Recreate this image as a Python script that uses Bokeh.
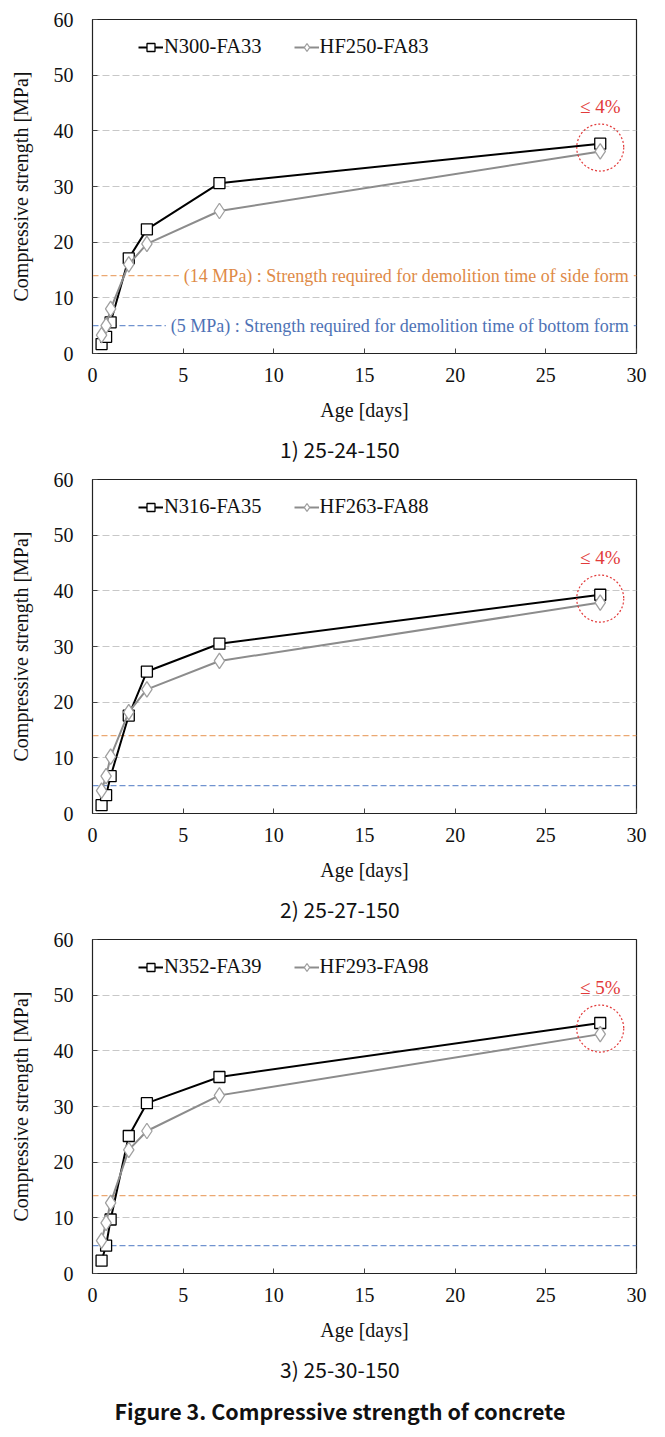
from bokeh.plotting import figure
from bokeh.models import Span, Label, FixedTicker, Range1d
from bokeh.layouts import column
from bokeh.embed import file_html
from bokeh.resources import INLINE

# ---------------- data ----------------
ages = [0.5, 0.75, 1, 2, 3, 7, 28]

n_names = ["N300-FA33", "N316-FA35", "N352-FA39"]
hf_names = ["HF250-FA83", "HF263-FA88", "HF293-FA98"]

n_chart1 = [1.7, 3.0, 5.6, 17.1, 22.3, 30.6, 37.7]
hf_chart1 = [3.3, 5.0, 8.0, 16.0, 19.7, 25.6, 36.3]
n_chart2 = [1.5, 3.3, 6.7, 17.6, 25.5, 30.5, 39.3]
hf_chart2 = [4.1, 6.7, 10.2, 18.2, 22.3, 27.4, 37.9]
n_chart3 = [2.3, 5.0, 9.7, 24.7, 30.6, 35.3, 45.0]
hf_chart3 = [5.9, 9.1, 12.7, 22.2, 25.6, 32.0, 43.0]

captions = ["1) 25-24-150", "2) 25-27-150", "3) 25-30-150"]
diff_labels = ["≤ 4%", "≤ 4%", "≤ 5%"]
x_ticks = [0, 5, 10, 15, 20, 25, 30]
y_ticks = [0, 10, 20, 30, 40, 50, 60]
side_form_mpa = 14
bottom_form_mpa = 5
side_form_note = "(14 MPa) : Strength required for demolition time of side form"
bottom_form_note = "(5 MPa) : Strength required for demolition time of bottom form"
figure_caption = "Figure 3. Compressive strength of concrete"

# ---------------- style ----------------
SERIF = "Liberation Serif"
KR = "Noto Sans CJK KR"
ORANGE_LINE = "#EBA872"
ORANGE_TEXT = "#DE8A47"
BLUE_LINE = "#7093CF"
BLUE_TEXT = "#4E72B5"
RED = "#E23A3A"
GREY = "#8C8C8C"

W = 664
FRAME_L = 92
FRAME_R = 636
CAPTION_X = 302


def make_chart(n_vals, hf_vals, n_name, hf_name, diff, with_notes, top):
    p = figure(width=W, height=top + 334 + 76, x_range=Range1d(0, 30), y_range=Range1d(0, 60),
               output_backend="svg", toolbar_location=None,
               min_border_left=FRAME_L, min_border_right=W - FRAME_R,
               min_border_top=top, min_border_bottom=76)
    p.background_fill_color = "white"
    p.border_fill_color = "white"
    p.outline_line_color = "#222222"
    p.outline_line_width = 1.2

    p.xgrid.visible = False
    p.ygrid.grid_line_color = "#C8C8C8"
    p.ygrid.grid_line_dash = "7 3"
    p.ygrid.grid_line_width = 1

    p.xaxis.ticker = FixedTicker(ticks=x_ticks)
    p.yaxis.ticker = FixedTicker(ticks=y_ticks)
    for ax in (p.xaxis[0], p.yaxis[0]):
        ax.major_tick_in = 5
        ax.major_tick_out = 0
        ax.minor_tick_line_color = None
        ax.axis_line_color = "#222222"
        ax.major_tick_line_color = "#444444"
        ax.major_label_text_font = SERIF
        ax.major_label_text_font_size = "20px"
        ax.major_label_text_color = "#111111"
        ax.axis_label_text_font = SERIF
        ax.axis_label_text_font_size = "20px"
        ax.axis_label_text_font_style = "normal"
        ax.axis_label_text_color = "#111111"
    p.xaxis.axis_label = "Age [days]"
    p.yaxis.axis_label = "Compressive strength [MPa]"
    p.xaxis.major_label_standoff = 14
    p.xaxis.axis_label_standoff = 14
    p.yaxis.major_label_standoff = 19
    p.yaxis.axis_label_standoff = 19

    # reference lines
    p.add_layout(Span(location=side_form_mpa, dimension="width", line_color=ORANGE_LINE,
                      line_dash="6 3", line_width=1.2, level="underlay"))
    p.add_layout(Span(location=bottom_form_mpa, dimension="width", line_color=BLUE_LINE,
                      line_dash="6 3", line_width=1.2, level="underlay"))

    # series
    p.line(ages, n_vals, line_color="black", line_width=2, legend_label=n_name)
    p.scatter(ages, n_vals, marker="square", size=11, fill_color="white",
              line_color="black", line_width=1.3, legend_label=n_name)
    p.line(ages, hf_vals, line_color=GREY, line_width=2, legend_label=hf_name)
    p.scatter(ages, hf_vals, marker="diamond", size=15.5, fill_color="white",
              line_color="#A0A0A0", line_width=1.3, legend_label=hf_name)

    # circle annotation at 28 days
    cy = (n_vals[-1] + hf_vals[-1]) / 2
    p.scatter([ages[-1]], [cy], marker="circle", size=47, fill_color=None,
              line_color=RED, line_dash="2 2", line_width=1.2)
    p.add_layout(Label(x=ages[-1], y=cy, y_offset=41, text=diff, text_color=RED,
                       text_font=SERIF, text_font_size="19px", text_align="center",
                       text_baseline="middle"))

    if with_notes:
        p.add_layout(Label(x=29.85, y=side_form_mpa, text=side_form_note, text_color=ORANGE_TEXT,
                           text_font=SERIF, text_font_size="18px", text_align="right",
                           text_baseline="middle", background_fill_color="white",
                           padding=5))
        p.add_layout(Label(x=29.85, y=bottom_form_mpa, text=bottom_form_note, text_color=BLUE_TEXT,
                           text_font=SERIF, text_font_size="18px", text_align="right",
                           text_baseline="middle", background_fill_color="white",
                           padding=5))

    lg = p.legend[0]
    lg.orientation = "horizontal"
    lg.location = (46, 295)
    lg.margin = 0
    lg.padding = 0
    lg.spacing = 32
    lg.glyph_width = 25
    lg.glyph_height = 20
    lg.label_height = 20
    lg.label_standoff = 1
    lg.label_text_font = SERIF
    lg.label_text_font_size = "20.5px"
    lg.label_text_color = "#111111"
    lg.background_fill_alpha = 0
    lg.border_line_color = None
    return p


def make_caption(text, height, ypos, font_size, style):
    c = figure(width=W, height=height, x_range=Range1d(0, W), y_range=Range1d(0, height),
               output_backend="svg", toolbar_location=None, min_border=0,
               x_axis_location=None, y_axis_location=None)
    c.grid.visible = False
    c.outline_line_color = None
    c.add_layout(Label(x=CAPTION_X, y=height - ypos, text=text, text_font=KR,
                       text_font_size=font_size, text_font_style=style, text_color="#111111",
                       text_align="center", text_baseline="middle"))
    return c


p1 = make_chart(n_chart1, hf_chart1, n_names[0], hf_names[0], diff_labels[0], True, 19)
c1 = make_caption(captions[0], 39, 19, "21px", "normal")
p2 = make_chart(n_chart2, hf_chart2, n_names[1], hf_names[1], diff_labels[1], False, 11)
c2 = make_caption(captions[1], 39, 19, "21px", "normal")
p3 = make_chart(n_chart3, hf_chart3, n_names[2], hf_names[2], diff_labels[2], False, 11)
c3 = make_caption(captions[2], 39, 19, "21px", "normal")
pc = make_caption(figure_caption, 48, 22, "21.5px", "bold")

layout = column(p1, c1, p2, c2, p3, c3, pc, spacing=0)

open("out.html", "w").write(file_html(layout, INLINE))
